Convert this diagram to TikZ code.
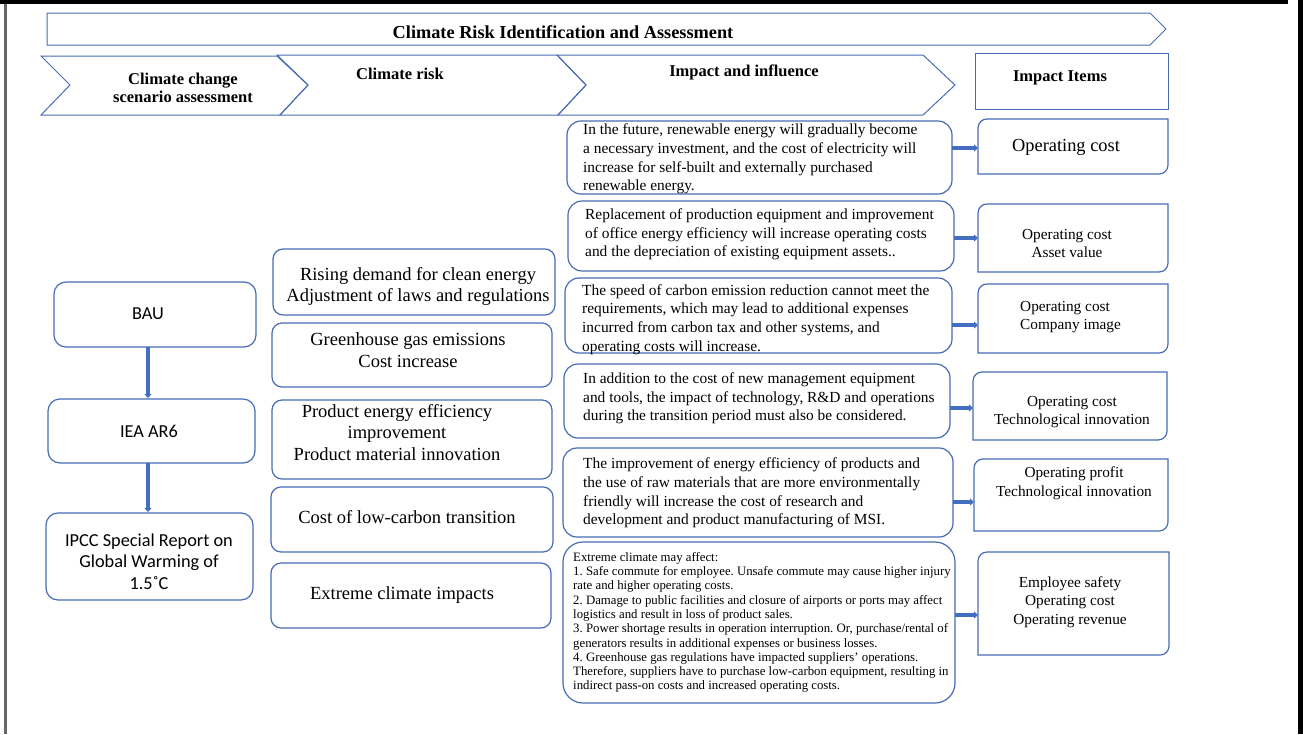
\documentclass[tikz,border=0pt]{standalone}
\usepackage{fontspec}
\setmainfont{Liberation Serif}
\newfontfamily\calib{Carlito}
\usetikzlibrary{arrows.meta,calc}
\definecolor{bl}{RGB}{72,108,180}
\definecolor{ar}{RGB}{68,110,192}
\newcommand\diagframe[1]{%
 \draw[blueline] (#1.south west) -- ($(#1.north west)+(0,9)$) .. controls ($(#1.north west)+(0,4)$) and ($(#1.north west)+(4,0)$) .. ($(#1.north west)+(9,0)$) -- (#1.north east) -- ($(#1.south east)+(0,-9)$) .. controls ($(#1.south east)+(0,-4)$) and ($(#1.south east)+(-4,0)$) .. ($(#1.south east)+(-9,0)$) -- cycle;}
\tikzset{
 blueline/.style={draw=bl, line width=1.2pt},
 hdrshape/.style={draw=bl, line width=1pt, line join=miter},
 lbox/.style={blueline, rounded corners=12pt, inner sep=0pt, outer sep=0pt},
 crbox/.style={blueline, rounded corners=10pt, inner sep=0pt, outer sep=0pt},
 ibox/.style={blueline, rounded corners=14pt, inner sep=0pt, outer sep=0pt},
 rbox/.style={draw=none, inner sep=0pt, outer sep=0pt},
 ttl/.style={font=\fontsize{18.3}{22}\selectfont\bfseries, inner sep=0pt},
 hd/.style={font=\fontsize{16.5}{18.5}\selectfont\bfseries, align=center, inner sep=0pt},
 cal/.style={font=\calib\fontsize{18.3}{21.5}\selectfont, align=center, inner sep=0pt},
 crt/.style={font=\fontsize{18.5}{21.5}\selectfont, align=center, inner sep=0pt},
 imt/.style={font=\fontsize{15.4}{18.7}\selectfont, align=left, anchor=west, inner sep=0pt},
 smt/.style={font=\fontsize{12.8}{14.3}\selectfont, align=left, anchor=west, inner sep=0pt},
 itm/.style={font=\fontsize{15.3}{18.6}\selectfont, align=center, inner sep=0pt},
 bigarrow/.style={draw=ar, line width=4pt, -{Triangle[length=4pt,width=7pt]}},
 smallarrow/.style={draw=ar, line width=3.5pt, -{Triangle[length=4pt,width=7pt]}},
}
\begin{document}
\frenchspacing
\begin{tikzpicture}[x=1pt,y=-1pt]
\useasboundingbox (0,0) rectangle (1303,734);
\fill[white] (0,0) rectangle (1303,734);
% page frame
\fill[black] (0,0) rectangle (1288,3.5);
\fill[black] (1298,0) rectangle (1303,734);
\fill[black!60] (4,3.5) rectangle (6.5,734);

% title arrow
\draw[hdrshape] (47,13) -- (1150,13) -- (1166,29) -- (1150,45) -- (47,45) -- cycle;
\node[ttl] (title) at (563,32) {Climate Risk Identification and Assessment};

% header chevrons
\draw[hdrshape] (41,56) -- (277,56) -- (308,85) -- (280,115) -- (41,115) -- (70,85) -- cycle;
\draw[hdrshape] (277,55) -- (557,55) -- (586,85) -- (558,115) -- (280,115) -- (308,85) -- cycle;
\draw[hdrshape] (557,55) -- (923,55) -- (955,85) -- (923,115) -- (558,115) -- (586,85) -- cycle;
\node[hdrshape, minimum width=193pt, minimum height=56pt, inner sep=0pt] (itemsbox) at (1071.5,81) {};
\node[hd] (h1) at (183,88) {Climate change\\scenario assessment};
\node[hd] (h2) at (400,74) {Climate risk};
\node[hd] (h3) at (744,72) {Impact and influence};
\node[hd] (h4) at (1060,78) {Impact Items};

% left column
\node[lbox, minimum width=202pt, minimum height=65pt] (bau) at (155,314.5) {};
\node[cal] (baut) at (148,314) {BAU};
\node[lbox, minimum width=207pt, minimum height=64pt] (iea) at (151.5,431) {};
\node[cal] (ieat) at (149,431) {IEA AR6};
\node[lbox, minimum width=207pt, minimum height=87pt] (ipcc) at (149.5,556.5) {};
\node[cal] (ipcct) at (149,561.5) {IPCC Special Report on\\Global Warming of\\1.5˚C};
\draw[bigarrow] (bau.south -| baut) -- ([yshift=1pt]iea.north -| baut);
\draw[bigarrow] (iea.south -| baut) -- ([yshift=1pt]ipcc.north -| baut);

% climate risk column
\node[crbox, minimum width=282pt, minimum height=66pt] (cr1) at (414,282) {};
\node[crt] (cr1t) at (418,286.5) {Rising demand for clean energy\\Adjustment of laws and regulations};
\node[crbox, minimum width=280pt, minimum height=64pt] (cr2) at (412,355) {};
\node[crt] (cr2t) at (408,350) {Greenhouse gas emissions\\Cost increase};
\node[crbox, minimum width=280pt, minimum height=79pt] (cr3) at (412,439.5) {};
\node[crt] (cr3t) at (397,432.5) {Product energy efficiency\\improvement\\Product material innovation};
\node[crbox, minimum width=282pt, minimum height=65pt] (cr4) at (412,519.5) {};
\node[crt] (cr4t) at (407,517) {Cost of low-carbon transition};
\node[crbox, minimum width=280pt, minimum height=65pt] (cr5) at (411,595.5) {};
\node[crt] (cr5t) at (402,595) {Extreme climate impacts};

% impact and influence column
\node[ibox, minimum width=385pt, minimum height=73pt] (i1) at (759.5,157.5) {};
\node[imt] (i1t) at (583,159) {In the future, renewable energy will gradually become\\a necessary investment, and the cost of electricity will\\increase for self-built and externally purchased\\renewable energy.};
\node[ibox, minimum width=386pt, minimum height=70pt] (i2) at (761,236) {};
\node[imt] (i2t) at (585,234.5) {Replacement of production equipment and improvement\\of office energy efficiency will increase operating costs\\and the depreciation of existing equipment assets..};
\node[ibox, minimum width=387pt, minimum height=75pt] (i3) at (758.5,315.5) {};
\node[imt] (i3t) at (582,319.5) {The speed of carbon emission reduction cannot meet the\\requirements, which may lead to additional expenses\\incurred from carbon tax and other systems, and\\operating costs will increase.};
\node[ibox, minimum width=386pt, minimum height=74pt] (i4) at (757,401) {};
\node[imt] (i4t) at (583,398.5) {In addition to the cost of new management equipment\\and tools, the impact of technology, R\&D and operations\\during the transition period must also be considered.};
\node[ibox, minimum width=390pt, minimum height=89pt] (i5) at (758,492.5) {};
\node[imt] (i5t) at (583,493) {The improvement of energy efficiency of products and\\the use of raw materials that are more environmentally\\friendly will increase the cost of research and\\development and product manufacturing of MSI.};
\node[ibox, rounded corners=20pt, minimum width=392pt, minimum height=161pt] (i6) at (759,622.5) {};
\node[smt] (i6t) at (573,622.5) {Extreme climate may affect:\\1. Safe commute for employee. Unsafe commute may cause higher injury\\rate and higher operating costs.\\2. Damage to public facilities and closure of airports or ports may affect\\logistics and result in loss of product sales.\\3. Power shortage results in operation interruption. Or, purchase/rental of\\generators results in additional expenses or business losses.\\4. Greenhouse gas regulations have impacted suppliers' operations.\\Therefore, suppliers have to purchase low-carbon equipment, resulting in\\indirect pass-on costs and increased operating costs.};

% impact items column
\node[rbox, minimum width=190pt, minimum height=55pt] (r1) at (1073,146.5) {};
\diagframe{r1}
\node[itm, font=\fontsize{18.4}{22}\selectfont] (r1t) at (1066,147) {Operating cost};
\node[rbox, minimum width=190pt, minimum height=68pt] (r2) at (1073,238) {};
\diagframe{r2}
\node[itm] (r2t) at (1067,243.5) {Operating cost\\Asset value};
\node[rbox, minimum width=190pt, minimum height=69pt] (r3) at (1073,318.5) {};
\diagframe{r3}
\node[itm, align=left, anchor=west] (r3t) at (1020,317) {Operating cost\\Company image};
\node[rbox, minimum width=194pt, minimum height=68pt] (r4) at (1070,406) {};
\diagframe{r4}
\node[itm] (r4t) at (1072,412) {Operating cost\\Technological innovation};
\node[rbox, minimum width=194pt, minimum height=72pt] (r5) at (1071,495) {};
\diagframe{r5}
\node[itm] (r5t) at (1074,483) {Operating profit\\Technological innovation};
\node[rbox, minimum width=191pt, minimum height=103pt] (r6) at (1073.5,603.5) {};
\diagframe{r6}
\node[itm] (r6t) at (1070,602) {Employee safety\\Operating cost\\Operating revenue};

% connectors impact -> items
\coordinate (a1) at (0,148);
\coordinate (a2) at (0,238);
\coordinate (a3) at (0,325);
\coordinate (a4) at (0,408);
\coordinate (a5) at (0,502);
\coordinate (a6) at (0,615);
\draw[smallarrow] (i1.east |- a1) -- (r1.west |- a1);
\draw[smallarrow] (i2.east |- a2) -- (r2.west |- a2);
\draw[smallarrow] (i3.east |- a3) -- (r3.west |- a3);
\draw[smallarrow] (i4.east |- a4) -- (r4.west |- a4);
\draw[smallarrow] (i5.east |- a5) -- (r5.west |- a5);
\draw[smallarrow] (i6.east |- a6) -- (r6.west |- a6);
\end{tikzpicture}
\end{document}
